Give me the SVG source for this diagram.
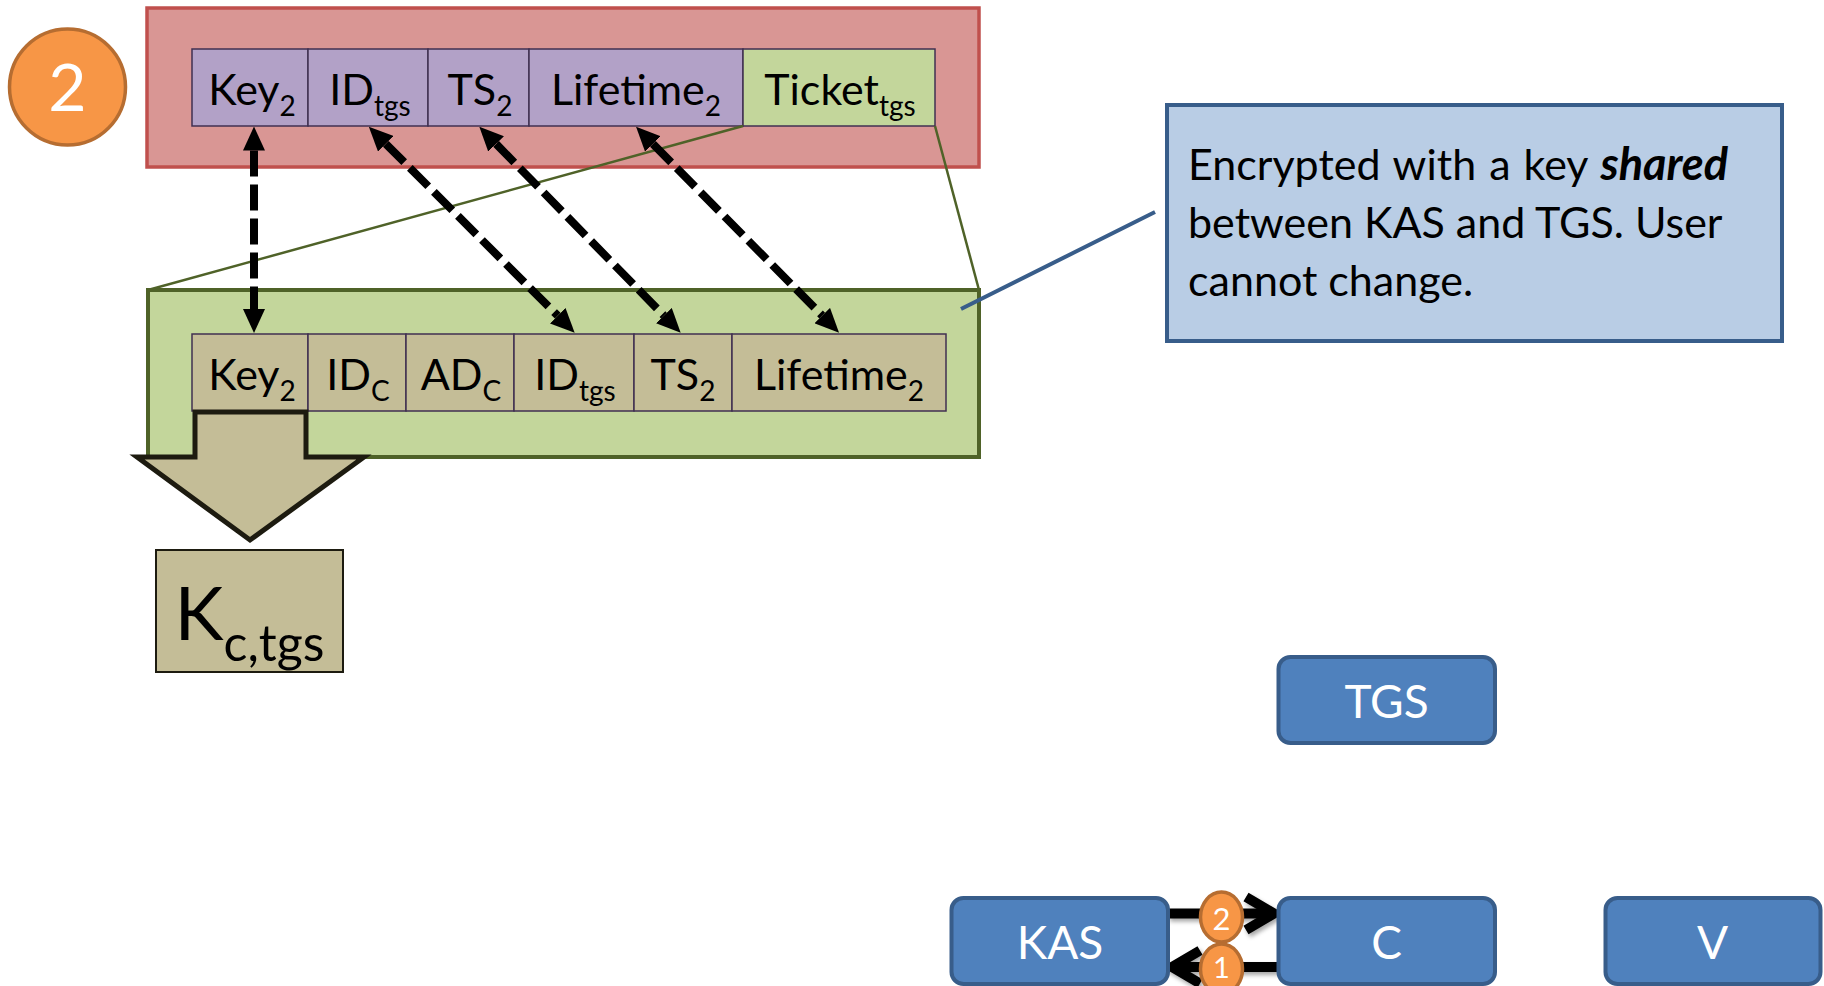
<svg xmlns="http://www.w3.org/2000/svg" width="1824" height="986" viewBox="0 0 1824 986">
  <style>
    text { font-family: Lato, "Open Sans", "Liberation Sans", sans-serif; fill: #000; }
    .cell-p { fill: #b2a1c7; stroke: #403152; stroke-width: 1.5; }
    .cell-g { fill: #c3d69b; stroke: #403152; stroke-width: 1.5; }
    .cell-t { fill: #c4bd97; stroke: #403152; stroke-width: 1.5; }
    .lbl { font-size: 43px; text-anchor: middle; }
    .sub { font-size: 28px; }
    .node rect { fill: #4f81bd; stroke: #385d8a; stroke-width: 4; }
    .node text { fill: #fff; font-size: 46px; text-anchor: middle; }
    .badge circle, .badge ellipse { fill: #f79646; stroke: #b66d31; stroke-width: 3.5; }
    .badge text { fill: #fff; text-anchor: middle; }
    .dash { fill: none; stroke: #000; stroke-width: 8; stroke-dasharray: 26 8; marker-start: url(#head); marker-end: url(#head); }
    .flow { fill: none; stroke: #000; stroke-width: 10; stroke-linejoin: miter; }
  </style>
  <defs>
    <marker id="head" markerUnits="userSpaceOnUse" markerWidth="24" markerHeight="22" refX="0" refY="11" orient="auto-start-reverse" viewBox="0 0 24 22">
      <path d="M0,0 L24,11 L0,22 z" fill="#000"/>
    </marker>
    <filter id="shadow" x="-20%" y="-50%" width="140%" height="200%">
      <feDropShadow dx="2" dy="3" stdDeviation="2" flood-color="#000" flood-opacity="0.35"/>
    </filter>
  </defs>

  <!-- message 2: outer envelope -->
  <g id="msg2">
    <rect x="147" y="8" width="832" height="159" fill="#d99694" stroke="#c0504d" stroke-width="3.5"/>
  </g>

  <g id="step2-badge" class="badge">
    <circle cx="67.5" cy="87" r="58"/>
    <text x="67.5" y="111" font-size="66">2</text>
  </g>

  <!-- fields of message 2 -->
  <g id="m2-key">
    <rect class="cell-p" x="192" y="49" width="116" height="77"/>
    <text class="lbl" x="252" y="105">Key<tspan class="sub" dy="11">2</tspan></text>
  </g>
  <g id="m2-idtgs">
    <rect class="cell-p" x="308" y="49" width="120" height="77"/>
    <text class="lbl" x="370" y="105">ID<tspan class="sub" dy="11">tgs</tspan></text>
  </g>
  <g id="m2-ts">
    <rect class="cell-p" x="428" y="49" width="101" height="77"/>
    <text class="lbl" x="480" y="105">TS<tspan class="sub" dy="11">2</tspan></text>
  </g>
  <g id="m2-lifetime">
    <rect class="cell-p" x="529" y="49" width="214" height="77"/>
    <text class="lbl" x="636" y="105">Lifetime<tspan class="sub" dy="11">2</tspan></text>
  </g>
  <g id="m2-ticket">
    <rect class="cell-g" x="743" y="49" width="192" height="77"/>
    <text class="lbl" x="840" y="105">Ticket<tspan class="sub" dy="11">tgs</tspan></text>
  </g>

  <!-- expansion of the ticket -->
  <g id="ticket-expand">
    <line x1="743" y1="126" x2="148" y2="290" stroke="#4f6228" stroke-width="2.5"/>
    <line x1="935" y1="126" x2="979" y2="290" stroke="#4f6228" stroke-width="2.5"/>
  </g>

  <g id="ticket">
    <rect x="148" y="290" width="831" height="167" fill="#c3d69b" stroke="#4f6228" stroke-width="4"/>
  </g>

  <g id="t-key">
    <rect class="cell-t" x="192" y="334" width="116" height="77"/>
    <text class="lbl" x="252" y="390">Key<tspan class="sub" dy="11">2</tspan></text>
  </g>
  <g id="t-idc">
    <rect class="cell-t" x="308" y="334" width="98" height="77"/>
    <text class="lbl" x="358" y="390">ID<tspan class="sub" dy="11">C</tspan></text>
  </g>
  <g id="t-adc">
    <rect class="cell-t" x="406" y="334" width="108" height="77"/>
    <text class="lbl" x="461" y="390">AD<tspan class="sub" dy="11">C</tspan></text>
  </g>
  <g id="t-idtgs">
    <rect class="cell-t" x="514" y="334" width="120" height="77"/>
    <text class="lbl" x="575" y="390">ID<tspan class="sub" dy="11">tgs</tspan></text>
  </g>
  <g id="t-ts">
    <rect class="cell-t" x="634" y="334" width="98" height="77"/>
    <text class="lbl" x="683" y="390">TS<tspan class="sub" dy="11">2</tspan></text>
  </g>
  <g id="t-lifetime">
    <rect class="cell-t" x="732" y="334" width="214" height="77"/>
    <text class="lbl" x="839" y="390">Lifetime<tspan class="sub" dy="11">2</tspan></text>
  </g>

  <!-- block arrow: extract the session key -->
  <g id="extract-arrow">
    <path d="M195,412 L195,457 L137,457 L250,540 L364,457 L306,457 L306,412 Z" fill="#c4bd97" stroke="#1d1b10" stroke-width="5" stroke-linejoin="miter"/>
  </g>

  <g id="kctgs">
    <rect x="156" y="550" width="187" height="122" fill="#c4bd97" stroke="#1d1b10" stroke-width="2"/>
    <text x="249.5" y="640" font-size="74" text-anchor="middle">K<tspan font-size="50" dy="21">c,tgs</tspan></text>
  </g>

  <!-- callout -->
  <g id="callout">
    <line x1="1155" y1="212" x2="961" y2="309" stroke="#385d8a" stroke-width="4"/>
    <rect x="1167" y="105" width="615" height="236" fill="#b9cde5" stroke="#385d8a" stroke-width="4"/>
    <text x="1188" y="180" font-size="43" word-spacing="2">Encrypted with a key <tspan font-weight="bold" font-style="italic" font-size="45">shared</tspan></text>
    <text x="1188" y="238" font-size="43">between KAS and TGS. User</text>
    <text x="1188" y="296" font-size="43">cannot change.</text>
  </g>

  <!-- field correspondences -->
  <g id="connectors">
    <line class="dash" x1="254" y1="150.5" x2="254" y2="309"/>
    <line class="dash" x1="385.8" y1="143.8" x2="557.7" y2="315.7"/>
    <line class="dash" x1="496.1" y1="143.9" x2="663.9" y2="315.6"/>
    <line class="dash" x1="652.9" y1="143.9" x2="822.2" y2="315.6"/>

    <g filter="url(#shadow)">
      <line class="flow" x1="1168" y1="913.5" x2="1272" y2="913.5"/>
      <polyline class="flow" points="1246,897 1274,913.5 1246,930"/>
      <line class="flow" x1="1278" y1="967" x2="1174" y2="967"/>
      <polyline class="flow" points="1200,950.5 1172,967 1200,983.5"/>
    </g>
  </g>

  <!-- protocol participants -->
  <g id="tgs" class="node">
    <rect x="1278.5" y="657" width="216.5" height="86" rx="12"/>
    <text x="1386.5" y="718">TGS</text>
  </g>
  <g id="kas" class="node">
    <rect x="951.5" y="898" width="216.5" height="86" rx="12"/>
    <text x="1060" y="959">KAS</text>
  </g>
  <g id="c" class="node">
    <rect x="1278.5" y="898" width="216.5" height="86" rx="12"/>
    <text x="1386.5" y="959">C</text>
  </g>
  <g id="v" class="node">
    <rect x="1605.5" y="898" width="215" height="86" rx="12"/>
    <text x="1712.5" y="959">V</text>
  </g>

  <g id="badge-2" class="badge">
    <ellipse cx="1221.5" cy="917" rx="21" ry="25"/>
    <text x="1221.5" y="930" font-size="31">2</text>
  </g>
  <g id="badge-1" class="badge">
    <ellipse cx="1221.5" cy="969" rx="21" ry="25"/>
    <text x="1221.5" y="978" font-size="29">1</text>
  </g>
</svg>
